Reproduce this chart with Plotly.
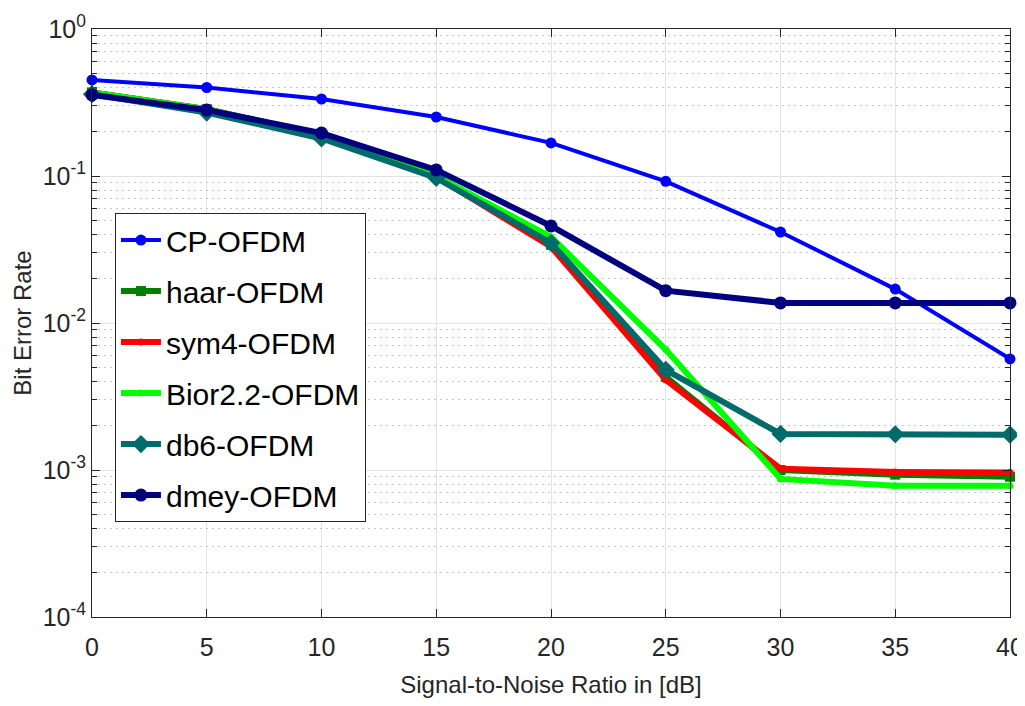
import plotly.graph_objects as go

snr = [0, 5, 10, 15, 20, 25, 30, 35, 40]

cp_ofdm = [0.45, 0.40, 0.334, 0.252, 0.168, 0.092, 0.0416, 0.0170, 0.0057]
haar_ofdm = [0.37, 0.285, 0.19, 0.10, 0.034, 0.0043, 0.00100, 0.00093, 0.00090]
sym4_ofdm = [0.37, 0.285, 0.19, 0.099, 0.033, 0.0041, 0.00102, 0.00097, 0.00096]
bior22_ofdm = [0.37, 0.285, 0.19, 0.10, 0.0385, 0.0066, 0.00087, 0.00078, 0.00078]
db6_ofdm = [0.36, 0.27, 0.18, 0.097, 0.035, 0.0048, 0.00176, 0.00175, 0.00174]
dmey_ofdm = [0.356, 0.281, 0.196, 0.110, 0.0457, 0.0166, 0.0137, 0.0137, 0.0137]

ytick_vals = [1e-4, 1e-3, 1e-2, 1e-1, 1]
ytick_text = ["10<sup>-4</sup>", "10<sup>-3</sup>", "10<sup>-2</sup>", "10<sup>-1</sup>", "10<sup>0</sup>"]
xtick_vals = [0, 5, 10, 15, 20, 25, 30, 35, 40]

minor_vals = [m * 10 ** e for e in range(-4, 0) for m in range(2, 10)]

series = [
    ("CP-OFDM", cp_ofdm, "#0000ff", 4, "circle", 11),
    ("haar-OFDM", haar_ofdm, "#007f00", 6, "square", 10),
    ("sym4-OFDM", sym4_ofdm, "#ff0000", 6, "circle", 7),
    ("Bior2.2-OFDM", bior22_ofdm, "#00ff00", 6, "circle", 7),
    ("db6-OFDM", db6_ofdm, "#006b6b", 6, "diamond", 14),
    ("dmey-OFDM", dmey_ofdm, "#00007f", 6, "circle", 13),
]

fig = go.Figure()

# dotted minor grid via overlay axis
fig.add_trace(go.Scatter(x=[0, 40], y=[1e-4, 1], mode="lines", line=dict(width=0),
                         yaxis="y2", showlegend=False, hoverinfo="skip"))

for name, vals, color, lw, sym, ms in series:
    fig.add_trace(go.Scatter(
        x=snr, y=vals, name=name, mode="lines+markers",
        line=dict(color=color, width=lw),
        marker=dict(symbol=sym, size=ms, color=color),
        legendgroup=name, cliponaxis=False,
    ))

font_fam = "Liberation Sans, Arial, sans-serif"

fig.update_layout(
    width=1017, height=698,
    margin=dict(l=84, r=15, t=21, b=89),
    paper_bgcolor="white", plot_bgcolor="white",
    font=dict(family=font_fam, color="#262626"),
    showlegend=True,
    legend=dict(
        x=0.025, y=0.687, xanchor="left", yanchor="top",
        bgcolor="white", bordercolor="#262626", borderwidth=1,
        font=dict(size=30, color="black", family=font_fam),
        itemwidth=40, tracegroupgap=9,
    ),
    xaxis=dict(
        range=[0, 40], tickvals=xtick_vals, ticks="inside", ticklen=8,
        tickcolor="#262626", showline=True, linecolor="#262626", linewidth=1, mirror="ticks",
        showgrid=True, gridcolor="#e3e3e3", gridwidth=1, zeroline=False, automargin=False,
        ticklabelstandoff=8,
        tickfont=dict(size=25), title=dict(text="Signal-to-Noise Ratio in [dB]", font=dict(size=24), standoff=16),
    ),
    yaxis=dict(
        type="log", range=[-4, 0], tickvals=ytick_vals, ticktext=ytick_text,
        ticks="inside", ticklen=8, tickcolor="#262626",
        showline=True, linecolor="#262626", linewidth=1, mirror="ticks",
        showgrid=True, gridcolor="#e3e3e3", gridwidth=1, zeroline=False, automargin=False,
        tickfont=dict(size=25), title=dict(text="Bit Error Rate", font=dict(size=24), standoff=4),
    ),
    yaxis2=dict(
        type="log", range=[-4, 0], overlaying="y", side="left",
        tickvals=minor_vals, showticklabels=False, ticks="inside", ticklen=5, tickcolor="#262626",
        showgrid=True, gridcolor="#c8c8c8", griddash="2px,4px", gridwidth=1,
        showline=True, linecolor="#262626", linewidth=1, mirror="ticks", zeroline=False,
        layer="below traces", automargin=False,
    ),
)

fig.write_html("out.html")
